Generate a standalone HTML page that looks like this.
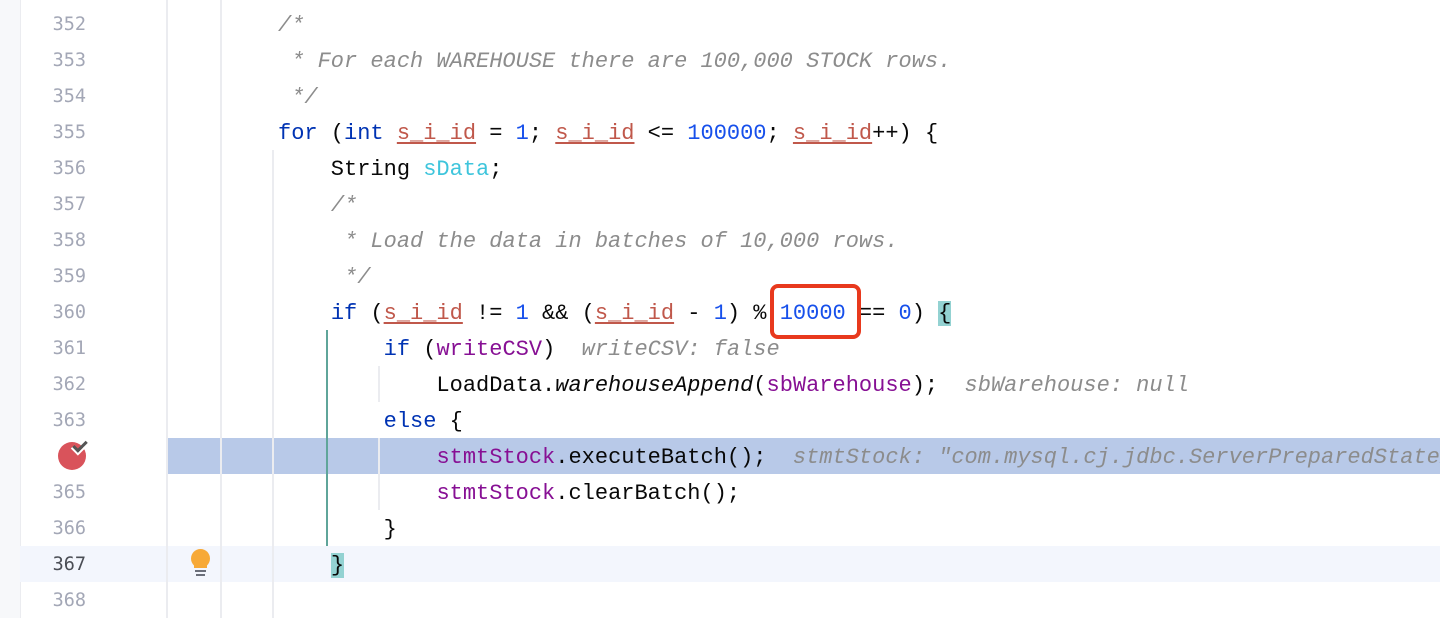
<!DOCTYPE html>
<html><head><meta charset="utf-8"><style>
html,body{margin:0;padding:0;width:1440px;height:618px;overflow:hidden;background:#fff;position:relative;font-family:"Liberation Mono",monospace}
.abs{position:absolute}
.ln{position:absolute;left:20px;width:66px;text-align:right;font-family:"DejaVu Sans Mono","Liberation Mono",monospace;font-size:18.5px;color:#a3a7b6;line-height:36px;margin-top:1px}
.code{position:absolute;left:278px;font-size:22px;line-height:36px;white-space:pre;color:#080808;margin-top:2px}
.k{color:#0033b3}.n{color:#1750eb}.v{color:#c0584b;text-decoration:underline;text-underline-offset:3px}
.c{color:#8c8c8c;font-style:italic}.p{color:#871094}.cy{color:#3ec5dc}.h{color:#8c8c8c;font-style:italic}
.i{font-style:italic}.bm{background:#93d2d2}
</style></head><body>
<div class="abs" style="left:0;top:0;width:20px;height:618px;background:#f7f8fa;border-right:1px solid #ebecf0"></div>
<div class="abs" style="left:20px;top:546px;width:1420px;height:36px;background:#f3f6fd"></div>
<div class="abs" style="left:168px;top:438px;width:1272px;height:36px;background:#b8c9e8"></div>
<div class="abs" style="left:166px;top:0;width:2px;height:618px;background:#ebecf0"></div>
<div class="abs" style="left:220px;top:0;width:2px;height:618px;background:#ebecf0"></div>
<div class="abs" style="left:272px;top:150px;width:2px;height:468px;background:#ebecf0"></div>
<div class="abs" style="left:326px;top:330px;width:2px;height:216px;background:#5fa59a"></div>
<div class="abs" style="left:378px;top:366px;width:2px;height:36px;background:#ebecf0"></div>
<div class="abs" style="left:378px;top:438px;width:2px;height:72px;background:#ebecf0"></div>

<div class="ln" style="top:6px">352</div>
<div class="ln" style="top:42px">353</div>
<div class="ln" style="top:78px">354</div>
<div class="ln" style="top:114px">355</div>
<div class="ln" style="top:150px">356</div>
<div class="ln" style="top:186px">357</div>
<div class="ln" style="top:222px">358</div>
<div class="ln" style="top:258px">359</div>
<div class="ln" style="top:294px">360</div>
<div class="ln" style="top:330px">361</div>
<div class="ln" style="top:366px">362</div>
<div class="ln" style="top:402px">363</div>
<div class="ln" style="top:474px">365</div>
<div class="ln" style="top:510px">366</div>
<div class="ln" style="top:546px;color:#4a4d55">367</div>
<div class="ln" style="top:582px">368</div>

<div class="abs" style="left:58px;top:442px;width:28px;height:28px;border-radius:50%;background:#d9535b"></div>
<div class="abs" style="left:73px;top:441px;width:11px;height:5px;border-left:3px solid #555;border-bottom:3px solid #555;transform:rotate(-45deg);box-shadow:-1px 1px 0 1px #fff"></div>
<div class="abs" style="left:191px;top:549px;width:19px;height:19px;border-radius:50%;background:#f7a937"></div>
<div class="abs" style="left:194px;top:563px;width:13px;height:5px;background:#f7a937"></div>
<div class="abs" style="left:195px;top:570px;width:11px;height:2px;background:#6b6f7a"></div>
<div class="abs" style="left:196px;top:574px;width:9px;height:2px;background:#6b6f7a"></div>

<div class="code" style="top:6px"><span class="c">/*</span></div>
<div class="code" style="top:42px"><span class="c"> * For each WAREHOUSE there are 100,000 STOCK rows.</span></div>
<div class="code" style="top:78px"><span class="c"> */</span></div>
<div class="code" style="top:114px"><span class="k">for</span> (<span class="k">int</span> <span class="v">s_i_id</span> = <span class="n">1</span>; <span class="v">s_i_id</span> &lt;= <span class="n">100000</span>; <span class="v">s_i_id</span>++) {</div>
<div class="code" style="top:150px">    String <span class="cy">sData</span>;</div>
<div class="code" style="top:186px">    <span class="c">/*</span></div>
<div class="code" style="top:222px">    <span class="c"> * Load the data in batches of 10,000 rows.</span></div>
<div class="code" style="top:258px">    <span class="c"> */</span></div>
<div class="code" style="top:294px">    <span class="k">if</span> (<span class="v">s_i_id</span> != <span class="n">1</span> &amp;&amp; (<span class="v">s_i_id</span> - <span class="n">1</span>) % <span class="n">10000</span> == <span class="n">0</span>) <span class="bm">{</span></div>
<div class="code" style="top:330px">        <span class="k">if</span> (<span class="p">writeCSV</span>)  <span class="h">writeCSV: false</span></div>
<div class="code" style="top:366px">            LoadData.<span class="i">warehouseAppend</span>(<span class="p">sbWarehouse</span>);  <span class="h">sbWarehouse: null</span></div>
<div class="code" style="top:402px">        <span class="k">else</span> {</div>
<div class="code" style="top:438px">            <span class="p">stmtStock</span>.executeBatch();  <span class="h">stmtStock: "com.mysql.cj.jdbc.ServerPreparedStatement</span></div>
<div class="code" style="top:474px">            <span class="p">stmtStock</span>.clearBatch();</div>
<div class="code" style="top:510px">        }</div>
<div class="code" style="top:546px">    <span class="bm">}</span></div>

<div class="abs" style="left:770px;top:284px;width:83px;height:47px;border:4px solid #e8391d;border-radius:8px"></div>
</body></html>
